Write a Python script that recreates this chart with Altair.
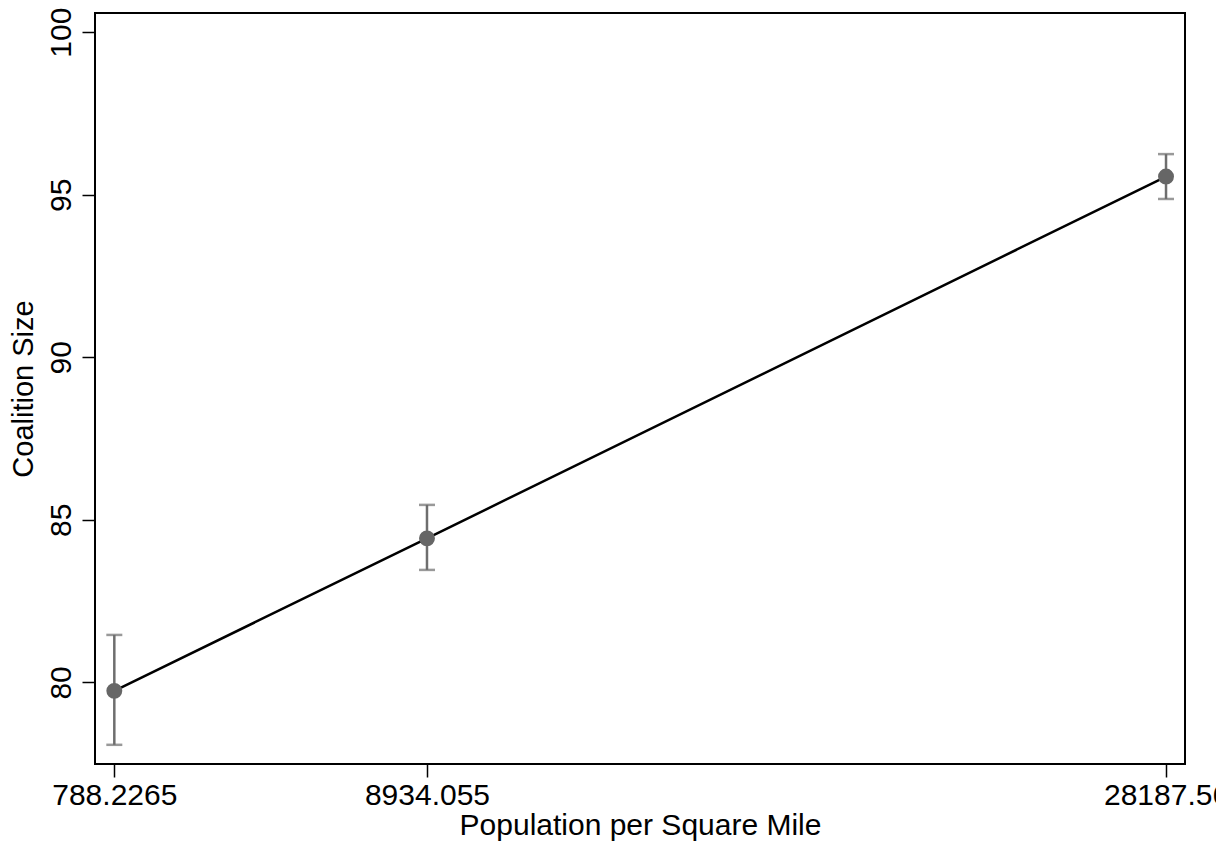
import altair as alt
import pandas as pd

# Data
pop_density = [788.2265, 8934.055, 28187.56]
pop_labels = ["788.2265", "8934.055", "28187.56"]
coalition = [79.74, 84.43, 95.56]
ci_low = [78.08, 83.46, 94.87]
ci_high = [81.46, 85.46, 96.25]
y_ticks = [80, 85, 90, 95, 100]

df = pd.DataFrame({
    "x": pop_density,
    "y": coalition,
    "lo": ci_low,
    "hi": ci_high,
})

FONT = "Liberation Sans"

label_expr = " : ".join(
    [f"datum.value == {v} ? '{l}'" for v, l in zip(pop_density, pop_labels)] + ["''"]
)

x_scale = alt.Scale(domain=[285, 28682], nice=False, zero=False)
y_scale = alt.Scale(domain=[77.49, 100.59], nice=False, zero=False)

x_enc = alt.X(
    "x:Q",
    scale=x_scale,
    axis=alt.Axis(
        title="Population per Square Mile",
        values=pop_density,
        labelExpr=label_expr,
        grid=False,
        domain=False,
        tickColor="black",
        tickSize=13,
        tickWidth=1.5,
        labelFontSize=30,
        labelFont=FONT,
        labelColor="black",
        labelPadding=3,
        labelFlush=False,
        labelOverlap=False,
        titleFontSize=30,
        titleFont=FONT,
        titleFontWeight="normal",
        titleColor="black",
        titlePadding=0,
    ),
)

y_enc = alt.Y(
    "y:Q",
    scale=y_scale,
    axis=alt.Axis(
        title="Coalition Size",
        values=y_ticks,
        grid=False,
        domain=False,
        tickColor="black",
        tickSize=13,
        tickWidth=1.5,
        labelAngle=-90,
        labelAlign="center",
        labelBaseline="bottom",
        labelFontSize=30,
        labelFont=FONT,
        labelColor="black",
        labelPadding=6,
        labelFlush=False,
        titleFontSize=29,
        titleFont=FONT,
        titleFontWeight="normal",
        titleColor="black",
        titlePadding=8,
    ),
)

base = alt.Chart(df)

bars = base.mark_rule(color="#6e6e6e", strokeWidth=2.5).encode(
    x=x_enc, y=alt.Y("lo:Q", scale=y_scale), y2="hi:Q"
)
cap_lo = base.mark_tick(color="#6e6e6e", orient="horizontal", size=16, thickness=2.5).encode(
    x=x_enc, y=alt.Y("lo:Q", scale=y_scale)
)
cap_hi = base.mark_tick(color="#6e6e6e", orient="horizontal", size=16, thickness=2.5).encode(
    x=x_enc, y=alt.Y("hi:Q", scale=y_scale)
)
line = base.mark_line(color="black", strokeWidth=2.5).encode(x=x_enc, y=y_enc)
points = base.mark_circle(color="#666666", size=254, opacity=1).encode(x=x_enc, y=y_enc)

chart = (
    alt.layer(bars, cap_lo, cap_hi, line, points)
    .properties(
        width=1090,
        height=751,
        background="white",
        autosize=alt.AutoSizeParams(type="none"),
        padding={"left": 87, "top": 5, "right": 31, "bottom": 80},
    )
    .configure_view(stroke="black", strokeWidth=2)
)

chart.save("out.html", embed_options={"renderer": "svg", "actions": False})
